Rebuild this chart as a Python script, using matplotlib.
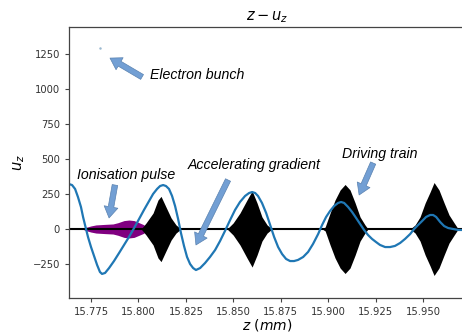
import matplotlib
matplotlib.use("Agg")
import matplotlib.pyplot as plt

# longitudinal momentum u_z of the wake along z (mm)
z_wake = [15.7634, 15.7650, 15.7666, 15.7681, 15.7697, 15.7708, 15.7721, 15.7734,
          15.7750, 15.7766, 15.7782, 15.7797, 15.7808, 15.7824, 15.7845, 15.7871,
          15.7898, 15.7924, 15.7950, 15.7977, 15.8003, 15.8029, 15.8056, 15.8077,
          15.8098, 15.8114, 15.8130, 15.8145, 15.8161, 15.8177, 15.8193, 15.8209,
          15.8224, 15.8240, 15.8256, 15.8272, 15.8288, 15.8303, 15.8325, 15.8351,
          15.8377, 15.8404, 15.8430, 15.8456, 15.8483, 15.8509, 15.8535, 15.8562,
          15.8583, 15.8599, 15.8615, 15.8630, 15.8651, 15.8673, 15.8694, 15.8715,
          15.8736, 15.8757, 15.8778, 15.8799, 15.8820, 15.8841, 15.8868, 15.8894,
          15.8920, 15.8947, 15.8968, 15.8989, 15.9010, 15.9031, 15.9052, 15.9068,
          15.9084, 15.9105, 15.9126, 15.9147, 15.9168, 15.9189, 15.9210, 15.9231,
          15.9252, 15.9273, 15.9300, 15.9326, 15.9352, 15.9379, 15.9405, 15.9432,
          15.9453, 15.9474, 15.9495, 15.9516, 15.9537, 15.9553, 15.9569, 15.9590,
          15.9611, 15.9632, 15.9658, 15.9685, 15.9706, 15.9721]
u_wake = [321, 314, 286, 229, 157, 86, 14, -57,
          -129, -193, -257, -307, -321, -314, -279, -229,
          -171, -114, -57, 7, 71, 136, 200, 250,
          286, 307, 314, 307, 286, 236, 164, 71,
          -29, -121, -200, -250, -279, -293, -279, -243,
          -200, -150, -86, -14, 64, 136, 193, 236,
          257, 264, 257, 236, 186, 114, 29, -57,
          -129, -179, -214, -229, -229, -221, -200, -164,
          -107, -36, 29, 86, 129, 164, 186, 193,
          186, 157, 121, 79, 36, -7, -43, -71,
          -93, -114, -129, -129, -121, -100, -71, -36,
          0, 29, 57, 86, 100, 100, 86, 50,
          21, 7, 0, -7, -7, -7]

# envelope of the driving pulse train
z_drive = [15.8014, 15.8040, 15.8077, 15.8103, 15.8119, 15.8145, 15.8172, 15.8198, 15.8224,
           15.8467, 15.8499, 15.8535, 15.8572, 15.8599, 15.8625, 15.8651, 15.8678, 15.8704,
           15.8968, 15.8984, 15.9010, 15.9036, 15.9063, 15.9089, 15.9115, 15.9142, 15.9168, 15.9194, 15.9210,
           15.9432, 15.9458, 15.9484, 15.9511, 15.9537, 15.9558, 15.9584, 15.9611, 15.9637, 15.9664, 15.9685]
a_drive = [0, 43, 114, 207, 233, 157, 79, 29, 0,
           0, 43, 114, 207, 272, 186, 86, 29, 0,
           0, 14, 114, 207, 279, 318, 279, 186, 86, 29, 0,
           0, 29, 86, 186, 264, 332, 279, 186, 100, 43, 0]

# envelope of the ionisation pulse
z_ion = [15.7703, 15.7724, 15.7750, 15.7776, 15.7824, 15.7866, 15.7892,
         15.7924, 15.7950, 15.7977, 15.8003, 15.8029, 15.8040]
a_ion = [0, 12, 22, 29, 33, 36, 45, 60, 64, 60, 45, 30, 0]

# electron bunch
z_bunch = [15.7797]
u_bunch = [1293]

fig = plt.figure(figsize=(4.62, 3.33), dpi=100)
ax = fig.add_axes([0.1494, 0.1051, 0.8571, 0.8138])

ax.fill_between(z_ion, [-a for a in a_ion], a_ion, color='purple', lw=0)
ax.fill_between(z_drive, [-a for a in a_drive], a_drive, color='black', lw=0)
ax.axhline(0, color='black', lw=1.5)
ax.plot(z_wake, u_wake, color='#1f77b4', lw=1.6)
ax.scatter(z_bunch, u_bunch, s=0.6, color='#9ab8cf')

ax.set_xlim(15.7634, 15.9721)
ax.set_ylim(-493, 1443)
ax.set_xticks([15.775, 15.800, 15.825, 15.850, 15.875, 15.900, 15.925, 15.950])
ax.set_yticks([-250, 0, 250, 500, 750, 1000, 1250])
ax.tick_params(labelsize=7.2, length=3, color='#444444', labelcolor='#333333')
for s in ax.spines.values():
    s.set_color('#444444')
    s.set_linewidth(0.9)

ax.set_title('$z - u_z$', fontsize=10.5, pad=5)
ax.set_xlabel('$z\\ (mm)$', fontsize=10, labelpad=0)
ax.set_ylabel('$u_z$', fontsize=10.5, labelpad=4)

# annotations
txt = dict(fontsize=10.2, style='italic', family='Liberation Sans', va='center')
ax.text(15.8061, 1100, 'Electron bunch', **txt)
ax.text(15.7676, 386, 'Ionisation pulse', **txt)
ax.text(15.8261, 457, 'Accelerating gradient', **txt)
ax.text(15.9073, 536, 'Driving train', **txt)

arr = dict(arrowstyle='simple,head_length=0.8,head_width=1.0,tail_width=0.4',
           fc='#729fd4', ec='#5a82b0', lw=0.5, mutation_scale=10, shrinkA=0, shrinkB=0)
ax.annotate('', xy=(15.7850, 1221), xytext=(15.8019, 1086), arrowprops=arr)
ax.annotate('', xy=(15.7845, 79), xytext=(15.7876, 314), arrowprops=arr)
ax.annotate('', xy=(15.8303, -114), xytext=(15.8472, 350), arrowprops=arr)
ax.annotate('', xy=(15.9163, 243), xytext=(15.9237, 471), arrowprops=arr)

fig.savefig('out.png', dpi=100)
